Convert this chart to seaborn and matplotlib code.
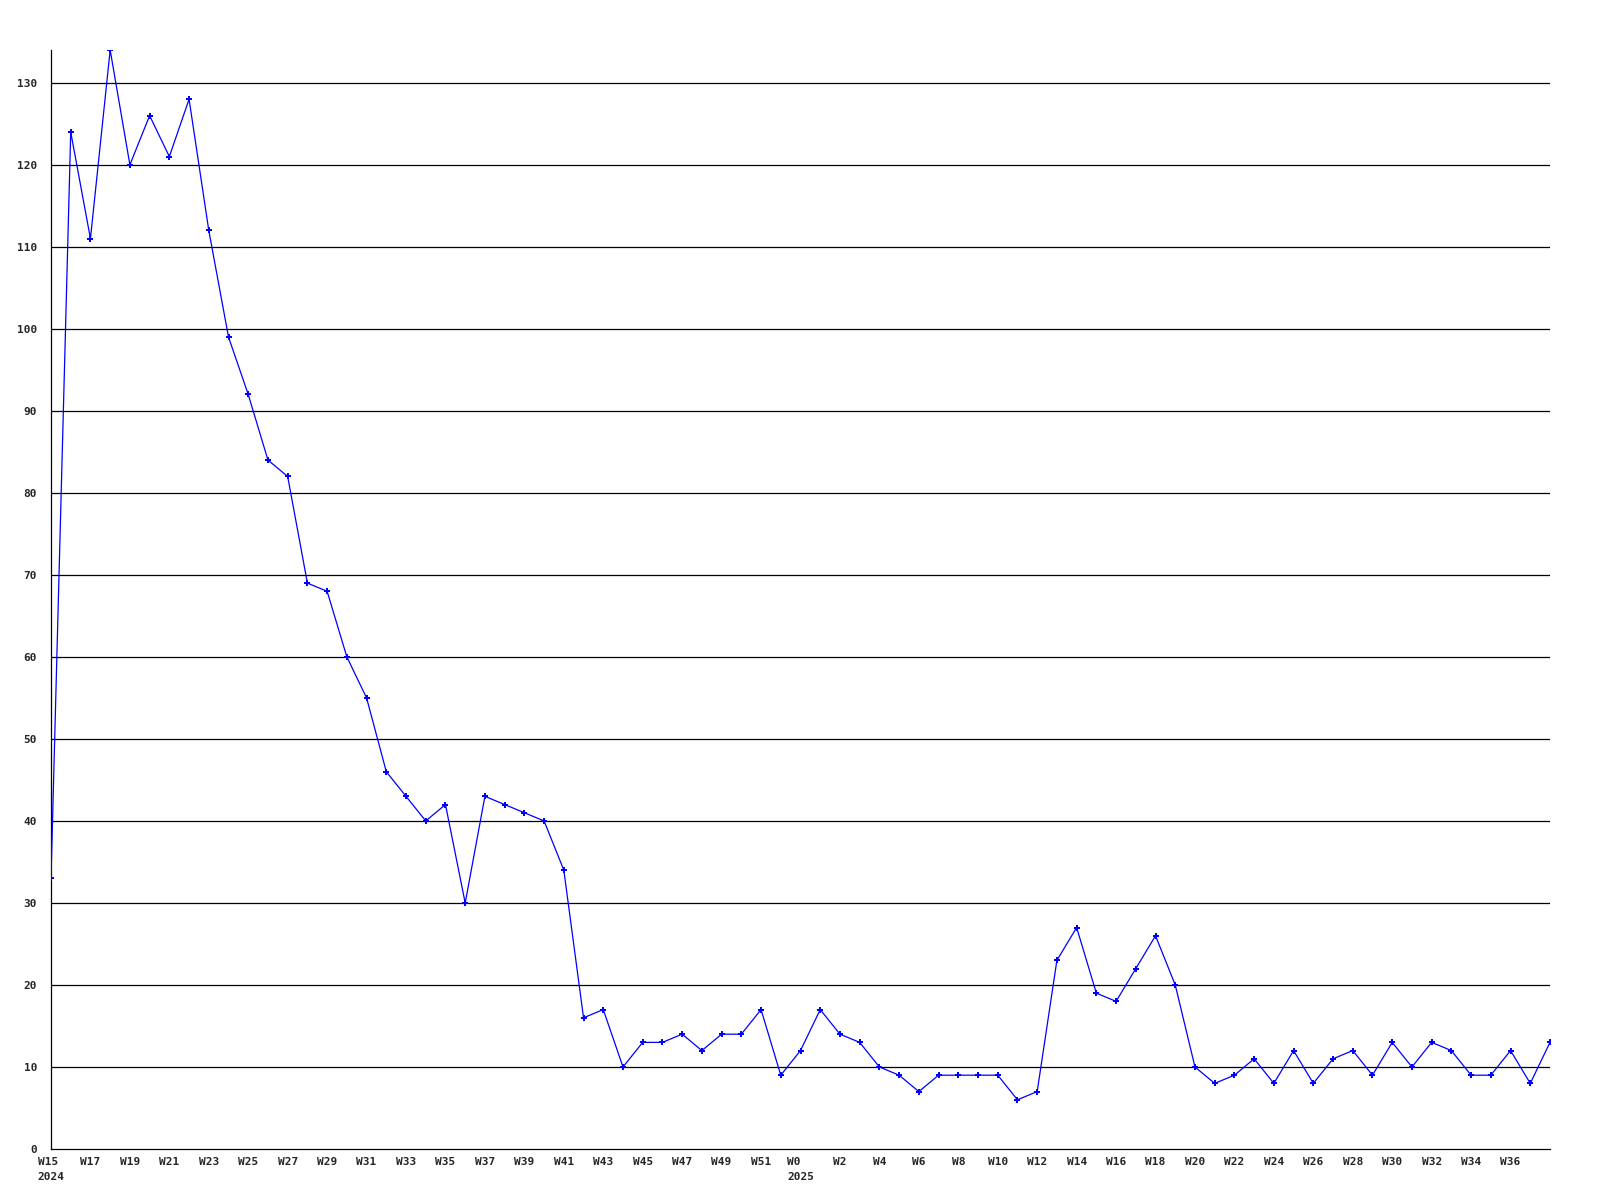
import matplotlib
matplotlib.use("Agg")
import matplotlib.pyplot as plt
import seaborn as sns
import pandas as pd

weeks_2024 = list(range(15, 53))
values_2024 = [33, 124, 111, 134, 120, 126, 121, 128, 112, 99,
               92, 84, 82, 69, 68, 60, 55, 46, 43, 40,
               42, 30, 43, 42, 41, 40, 34, 16, 17, 10,
               13, 13, 14, 12, 14, 14, 17, 9]
weeks_2025 = list(range(0, 39))
values_2025 = [12, 17, 14, 13, 10, 9, 7, 9, 9, 9,
               9, 6, 7, 23, 27, 19, 18, 22, 26, 20,
               10, 8, 9, 11, 8, 12, 8, 11, 12, 9,
               13, 10, 13, 12, 9, 9, 12, 8, 13]
y_ticks = list(range(0, 140, 10))

labels = [f"W{w}" for w in weeks_2024] + [f"W{w}" for w in weeks_2025]
years = [2024] * len(weeks_2024) + [2025] * len(weeks_2025)
values = values_2024 + values_2025
df = pd.DataFrame({"idx": range(len(values)), "value": values,
                   "label": labels, "year": years})

sns.set_style("white")
plt.rcParams["font.family"] = ["DejaVu Sans Mono", "DejaVu Sans"]

fig = plt.figure(figsize=(16, 12), dpi=100)
ax = fig.add_axes([51 / 1600, 1 - 1149 / 1200, (1550 - 51) / 1600, (1149 - 50) / 1200])

for t in y_ticks[1:]:
    ax.axhline(t, color="black", linewidth=0.9, zorder=1)

sns.lineplot(data=df, x="idx", y="value", ax=ax, color="#0000ff",
             linewidth=0.9, marker="P", markersize=5, markeredgewidth=0,
             markerfacecolor="#0000ff", zorder=3, clip_on=True)

ax.set_xlim(0, len(values) - 1)
ax.set_ylim(0, 134)
ax.set_yticks(y_ticks)
ax.set_yticklabels([str(t) for t in y_ticks], fontsize=8, fontweight="bold")

tick_idx = list(range(0, len(values) - 2, 2))
tick_labels = []
for i in tick_idx:
    lab = labels[i]
    if i == 0 or (years[i] != years[i - 1]):
        lab = lab + "\n" + str(years[i])
    tick_labels.append(lab)
ax.set_xticks(tick_idx)
ax.set_xticklabels(tick_labels, fontsize=8, fontweight="bold",
                   multialignment="left", linespacing=1.6)
ax.tick_params(axis="both", length=0)
ax.tick_params(axis="y", pad=10)
ax.tick_params(axis="x", pad=6)

ax.set_xlabel("")
ax.set_ylabel("")
for s in ["top", "right"]:
    ax.spines[s].set_visible(False)
for s in ["left", "bottom"]:
    ax.spines[s].set_color("black")
    ax.spines[s].set_linewidth(0.9)

fig.savefig("out.png", dpi=100, facecolor="white")
